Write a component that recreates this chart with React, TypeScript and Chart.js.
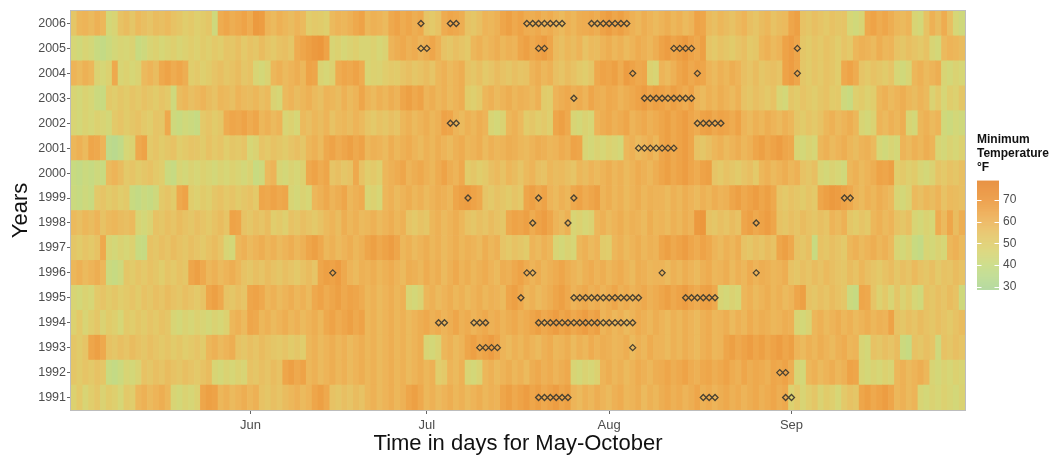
import React, { useEffect, useRef } from 'react';
import { Chart, registerables } from 'chart.js';
Chart.register(...registerables);

// ---------- DATA ----------
const YEARS = [1991, 1992, 1993, 1994, 1995, 1996, 1997, 1998, 1999, 2000, 2001, 2002, 2003, 2004, 2005, 2006];
const MONTH_TICK_DAYS = [30, 60, 91, 122];
const MONTH_TICK_LABELS = ['Jun', 'Jul', 'Aug', 'Sep'];
const LEGEND_TICKS = [30, 40, 50, 60, 70];
const LEGEND_TITLE = ['Minimum', 'Temperature', '°F'];
const X_TITLE = 'Time in days for May-October';
const Y_TITLE = 'Years';

// Daily minimum temperature (°F), May 2 – Sep 30, one array per year
const T2006 = [53,59,60,58,61,59,44,46,55,57,53,58,56,54,57,56,58,55,53,50,52,49,51,53,42,63,65,62,64,66,63,69,68,60,58,61,59,57,60,58,50,52,51,49,58,60,59,61,64,66,
  59,61,60,58,64,66,63,65,62,64,54,52,55,63,65,64,62,55,53,56,60,59,61,65,67,64,66,63,62,64,61,63,60,58,61,59,62,63,64,62,66,68,65,67,64,61,59,62,60,58,
  60,62,59,61,58,60,66,65,58,56,59,57,55,58,60,56,54,57,59,55,57,58,65,67,55,53,56,54,52,55,53,54,45,43,46,64,66,63,65,62,59,58,60,46,44,55,61,57,63,56,45,42];
const T2005 = [45,43,46,44,40,38,41,44,46,45,47,40,42,46,48,45,47,49,46,48,50,48,51,49,52,50,54,53,56,52,55,53,57,54,52,55,56,53,63,65,67,69,70,66,46,48,45,47,49,46,
  46,48,45,47,60,62,64,61,63,60,62,65,61,55,53,56,54,52,59,61,58,60,62,59,61,60,65,67,64,66,68,65,58,56,59,57,60,55,58,57,60,62,59,61,58,60,63,61,59,62,
  66,68,65,67,69,66,64,67,54,52,55,53,51,54,56,52,53,59,61,58,60,66,68,65,53,51,54,52,55,53,50,54,52,59,61,60,58,62,59,60,55,53,56,54,52,55,46,44,58,60,59,57];
const T2004 = [60,58,61,59,47,45,48,64,46,48,45,47,58,60,57,64,66,63,65,62,50,52,49,51,54,56,53,55,57,53,55,46,44,47,59,61,58,60,62,59,66,65,47,45,48,63,65,64,66,63,
  46,48,47,50,52,51,54,56,53,55,57,54,59,61,58,60,62,55,53,56,52,54,57,55,53,56,54,55,60,62,59,61,56,54,57,55,52,50,53,64,66,65,67,63,68,66,64,65,48,46,
  60,58,61,65,67,64,66,65,60,58,61,59,62,60,56,54,57,53,55,56,54,66,68,65,53,51,54,52,55,53,50,64,66,63,54,52,55,53,51,54,45,43,46,59,61,58,60,62,46,44,47,45];
const T2003 = [46,44,47,45,41,40,52,50,53,51,54,52,55,53,51,54,52,42,57,59,56,58,60,57,55,59,58,56,60,58,57,59,56,58,47,45,58,60,57,59,61,58,56,60,59,57,61,58,60,65,
  60,58,61,59,62,60,65,67,64,66,60,62,59,61,58,60,62,51,49,52,59,61,58,60,62,59,61,60,58,61,51,50,60,62,64,61,63,60,65,62,61,64,63,60,62,64,66,68,65,67,
  66,64,67,65,63,66,60,58,61,59,62,60,58,61,55,53,56,54,52,55,46,44,53,51,54,52,50,53,55,51,52,42,40,49,51,48,50,59,61,58,60,62,59,57,60,58,47,52,45,50,48,53];
const T2002 = [46,44,47,45,48,46,44,52,54,51,53,55,52,50,54,53,64,42,40,43,41,39,52,54,51,53,63,65,64,66,63,65,59,61,58,60,46,48,45,58,56,59,57,60,55,58,59,57,60,58,
  54,52,55,53,56,54,59,61,58,60,62,59,61,66,65,60,58,61,59,62,60,46,44,47,59,61,58,51,53,50,52,49,65,67,64,46,44,47,45,60,62,64,61,63,65,60,62,64,61,63,
  65,67,64,66,68,65,63,66,67,64,66,65,63,66,60,58,61,59,62,60,58,61,59,53,51,54,52,55,59,61,58,60,62,59,46,44,47,60,58,61,59,62,46,44,59,61,58,60,43,41,44,42];
const T2001 = [59,61,58,65,64,60,36,34,37,45,47,64,66,52,54,51,53,55,50,52,54,53,51,55,52,54,50,53,52,54,45,47,54,52,55,53,51,54,56,53,59,61,58,64,66,63,65,67,64,66,
  59,61,60,58,62,59,61,63,60,58,61,59,62,60,58,61,63,59,60,62,58,61,59,60,62,61,59,58,60,62,61,59,60,63,61,66,65,46,44,47,45,48,46,44,59,61,58,60,62,59,
  65,67,64,66,68,65,55,53,56,59,61,58,60,62,59,61,65,67,64,66,68,65,64,46,44,47,45,59,61,58,60,62,59,57,60,61,58,45,43,46,44,60,58,61,59,62,60,46,44,47,45,48];
const T2000 = [40,38,41,39,42,40,58,60,57,52,54,51,53,55,52,50,41,39,46,44,47,45,48,46,44,47,45,48,46,44,47,40,42,58,60,46,44,47,45,48,64,66,63,65,54,56,53,55,64,55,
  50,52,49,59,61,63,65,60,62,64,61,59,63,66,62,60,64,51,53,50,52,56,58,55,59,57,54,58,60,56,55,59,57,58,56,54,59,57,60,58,60,62,59,61,58,60,63,61,59,62,
  65,67,64,66,68,65,63,66,67,54,52,55,53,51,54,56,52,59,61,58,60,62,59,61,55,53,56,46,44,47,45,43,59,61,58,60,62,66,65,67,50,52,49,51,46,44,47,54,52,55,53,56];
const T1999 = [41,39,42,40,52,54,51,53,50,52,40,38,41,39,42,52,54,51,64,66,50,48,51,49,53,55,52,54,51,53,55,52,65,64,66,64,65,46,44,47,45,59,61,64,60,62,65,59,61,63,
  46,48,45,59,61,58,60,62,59,61,58,60,62,61,59,65,67,68,66,64,54,52,55,53,51,54,52,65,67,64,66,60,58,61,59,64,66,63,65,67,60,62,59,61,58,60,62,59,61,60,
  60,58,61,59,62,60,58,61,59,62,60,61,65,67,64,66,68,65,67,64,54,52,55,53,51,54,52,65,67,69,68,66,64,60,58,61,59,62,60,58,46,44,47,58,56,59,57,60,55,58,57,56];
const T1998 = [58,56,59,57,60,55,58,59,57,56,58,46,44,47,55,53,56,54,57,55,53,56,54,52,55,57,54,66,65,55,53,56,54,57,50,52,49,55,53,56,54,52,55,58,60,57,62,59,61,58,
  59,61,58,60,62,59,61,54,52,55,53,59,61,58,60,62,59,55,53,56,54,57,55,53,64,66,65,67,63,66,68,65,60,58,61,46,48,45,47,59,61,58,60,62,59,61,60,58,62,59,
  60,58,61,59,62,60,69,70,55,53,56,54,57,55,65,67,64,66,68,65,55,53,56,54,57,55,53,56,54,60,58,61,53,51,54,52,59,61,58,60,55,53,56,46,44,47,45,63,58,65,57,62];
const T1997 = [53,51,54,52,55,64,46,44,47,45,48,40,39,55,53,56,54,57,55,53,56,54,52,55,57,54,46,44,59,61,58,60,62,59,61,58,60,62,59,61,65,67,64,59,61,58,60,62,59,61,
  65,67,64,66,68,65,59,61,58,60,62,59,61,58,60,62,59,61,60,58,62,59,61,54,52,55,53,51,60,58,61,59,46,44,47,45,59,61,58,60,51,50,59,61,58,60,62,59,61,60,
  65,67,64,66,68,65,63,66,64,60,58,61,59,62,55,53,56,54,57,55,65,67,64,55,53,56,40,55,53,56,54,52,59,61,58,60,62,59,61,58,46,44,47,40,38,46,44,47,45,59,61,58];
const T1996 = [59,61,58,60,62,59,41,39,42,53,51,54,52,55,53,50,54,52,55,53,65,67,64,59,61,58,60,62,59,55,53,56,54,57,55,53,56,54,52,55,57,54,65,67,66,68,64,60,58,61,
  60,62,59,61,63,60,58,62,61,59,63,60,62,58,61,64,60,62,59,61,63,60,58,62,61,64,66,63,60,62,59,61,63,65,62,60,58,61,63,60,62,59,61,63,60,58,62,61,59,60,
  60,58,61,59,62,60,58,61,63,59,60,62,58,61,59,63,60,62,61,59,60,62,55,53,56,54,57,55,58,56,54,53,57,55,59,56,54,52,55,57,53,56,54,58,55,53,56,52,55,54,57,55];
const T1995 = [46,44,47,45,52,54,51,53,50,52,54,51,55,53,56,54,57,55,53,56,54,52,55,65,67,64,55,53,56,54,65,66,64,59,61,58,60,62,59,61,58,64,66,63,65,67,64,66,65,63,
  59,61,58,60,62,59,61,46,44,47,59,61,58,60,62,59,61,58,60,62,59,61,60,58,65,67,64,59,61,58,60,62,65,67,64,60,62,64,61,63,60,62,65,61,63,60,62,64,61,63,
  65,67,64,66,68,65,63,66,67,64,46,44,47,45,59,61,58,60,62,59,61,58,60,65,67,55,53,56,54,57,55,53,41,39,65,64,54,48,52,46,53,47,51,45,43,55,53,56,54,57,55,42];
const T1994 = [48,52,46,50,53,47,51,49,45,52,50,53,51,54,52,55,53,46,44,47,45,48,46,44,47,45,48,59,61,58,65,64,59,61,58,60,62,59,61,58,60,62,59,64,66,63,65,67,64,66,
  59,61,58,60,62,59,61,58,60,62,64,61,63,60,62,65,61,63,60,62,64,61,63,60,62,64,61,63,65,67,64,66,68,65,67,64,66,68,65,67,60,62,59,61,58,60,63,61,59,62,
  60,58,61,59,62,60,58,61,63,59,60,62,58,61,59,63,60,62,61,59,60,62,61,46,44,47,59,61,58,60,62,59,61,58,60,62,59,61,60,66,55,53,56,54,57,55,53,56,54,52,55,57];
const T1993 = [53,51,54,65,67,64,55,53,56,54,57,55,53,56,54,52,54,51,53,50,52,54,51,59,61,58,60,62,55,53,56,54,57,55,53,52,54,51,53,50,59,61,58,60,62,59,61,58,60,62,
  59,61,58,60,62,59,61,58,60,62,46,44,47,59,61,58,60,65,67,64,66,68,65,60,58,61,59,62,60,58,61,63,59,60,62,58,61,59,63,60,62,61,59,60,62,58,61,59,63,60,
  60,58,61,59,62,60,58,61,63,59,60,65,67,64,66,68,65,67,64,66,68,65,67,60,58,61,59,62,60,58,61,63,59,60,46,44,55,53,56,54,57,41,39,55,53,56,54,42,55,53,56,54];
const T1992 = [53,51,54,52,55,53,40,38,41,46,44,47,55,53,56,54,57,55,53,56,54,52,55,57,46,44,47,45,48,46,55,53,56,54,57,55,65,67,64,66,59,61,58,60,62,59,61,58,60,62,
  59,61,58,60,62,59,61,58,60,62,59,61,50,52,60,58,61,46,44,47,59,61,58,60,62,59,61,58,62,64,61,63,60,62,64,46,44,47,45,48,60,62,59,61,58,60,63,61,59,62,
  63,65,62,64,66,63,61,64,65,62,64,66,63,61,65,62,64,63,61,65,64,66,62,46,44,59,61,58,60,62,59,61,66,65,46,44,47,45,48,46,59,61,58,60,62,59,46,44,47,45,48,46];
const T1991 = [48,52,46,50,53,47,51,49,45,52,50,59,61,58,60,62,59,46,44,47,45,48,65,67,66,59,61,58,60,62,59,61,55,53,56,54,57,59,61,58,60,65,67,64,55,53,56,54,57,55,
  59,61,58,60,62,59,61,65,67,64,59,61,58,60,62,59,61,58,60,62,59,61,60,65,67,64,66,68,65,67,64,66,68,65,67,60,58,61,59,62,60,58,61,63,59,60,62,58,61,59,
  62,64,61,63,60,62,65,61,63,60,62,64,61,63,60,62,64,61,63,65,62,64,48,52,46,50,53,47,51,49,45,52,55,53,65,67,64,66,68,65,59,61,58,60,46,44,47,45,48,46,44,47];

const TEMPS = [T1991, T1992, T1993, T1994, T1995, T1996, T1997, T1998, T1999, T2000, T2001, T2002, T2003, T2004, T2005, T2006];

// Marked (heat) days, as day index from May 2
const H1991 = [79, 80, 81, 82, 83, 84, 107, 108, 109, 121, 122];
const H1992 = [120, 121];
const H1993 = [69, 70, 71, 72, 95];
const H1994 = [62, 63, 68, 69, 70, 79, 80, 81, 82, 83, 84, 85, 86, 87, 88, 89, 90, 91, 92, 93, 94, 95];
const H1995 = [76, 85, 86, 87, 88, 89, 90, 91, 92, 93, 94, 95, 96, 104, 105, 106, 107, 108, 109];
const H1996 = [44, 77, 78, 100, 116];
const H1997: number[] = [];
const H1998 = [78, 84, 116];
const H1999 = [67, 79, 85, 131, 132];
const H2000: number[] = [];
const H2001 = [96, 97, 98, 99, 100, 101, 102];
const H2002 = [64, 65, 106, 107, 108, 109, 110];
const H2003 = [85, 97, 98, 99, 100, 101, 102, 103, 104, 105];
const H2004 = [95, 106, 123];
const H2005 = [59, 60, 79, 80, 102, 103, 104, 105, 123];
const H2006 = [59, 64, 65, 77, 78, 79, 80, 81, 82, 83, 88, 89, 90, 91, 92, 93, 94];

const HEAT = [H1991, H1992, H1993, H1994, H1995, H1996, H1997, H1998, H1999, H2000, H2001, H2002, H2003, H2004, H2005, H2006];

// ---------- helpers ----------
const DAY_LABELS = Array.from({ length: 152 }, (_, i) => {
  const d = new Date(2001, 4, 2 + i);
  return `${d.getMonth() + 1}/${d.getDate()}`;
});

const STOPS: [number, number[]][] = [
  [28, [172, 214, 152]],
  [35, [188, 218, 140]],
  [40, [200, 218, 128]],
  [45, [214, 214, 118]],
  [50, [224, 205, 108]],
  [55, [231, 194, 100]],
  [60, [237, 180, 88]],
  [65, [238, 166, 74]],
  [70, [236, 151, 60]],
  [79, [230, 134, 46]],
];
function tempColor(v: number): string {
  if (v <= STOPS[0][0]) return `rgb(${STOPS[0][1].join(',')})`;
  for (let i = 1; i < STOPS.length; i++) {
    if (v <= STOPS[i][0]) {
      const [v0, c0] = STOPS[i - 1];
      const [v1, c1] = STOPS[i];
      const t = (v - v0) / (v1 - v0);
      const c = c0.map((a, k) => Math.round(a + (c1[k] - a) * t));
      return `rgb(${c.join(',')})`;
    }
  }
  return `rgb(${STOPS[STOPS.length - 1][1].join(',')})`;
}

const FONT = '"Liberation Sans", Arial, Helvetica, sans-serif';
const TEXT = '#4d4d4d';

const legendPlugin = {
  id: 'tempLegend',
  afterDraw(chart: any) {
    const ctx = chart.ctx as CanvasRenderingContext2D;
    const { left, right, top, bottom } = chart.chartArea;
    ctx.save();
    ctx.strokeStyle = '#bdbdbd';
    ctx.lineWidth = 1;
    ctx.strokeRect(left - 0.5, top - 0.5, right - left + 1, bottom - top + 1);

    ctx.fillStyle = '#111';
    ctx.font = `bold 12px ${FONT}`;
    ctx.textAlign = 'left';
    ctx.textBaseline = 'middle';
    LEGEND_TITLE.forEach((t, i) => ctx.fillText(t, 977, 140 + i * 14));

    const bx = 977, bw = 22, y30 = 286.7, pp = 2.165, vMin = 28.5, vMax = 79;
    const yOf = (v: number) => y30 - (v - 30) * pp;
    const yTop = yOf(vMax), yBot = yOf(vMin);
    for (let y = yTop; y < yBot; y += 1) {
      const v = 30 + (y30 - (y + 0.5)) / pp;
      ctx.fillStyle = tempColor(v);
      ctx.fillRect(bx, y, bw, Math.min(1.2, yBot - y));
    }
    ctx.strokeStyle = '#ffffff';
    ctx.lineWidth = 1;
    ctx.font = `12px ${FONT}`;
    ctx.fillStyle = TEXT;
    LEGEND_TICKS.forEach((v) => {
      const y = Math.round(yOf(v)) + 0.5;
      ctx.beginPath();
      ctx.moveTo(bx, y); ctx.lineTo(bx + 4.5, y);
      ctx.moveTo(bx + bw - 4.5, y); ctx.lineTo(bx + bw, y);
      ctx.stroke();
      ctx.fillText(String(v), 1003, yOf(v));
    });
    ctx.restore();
  },
};

export default function App() {
  const ref = useRef<HTMLCanvasElement>(null);
  useEffect(() => {
    Chart.defaults.font.family = FONT;
    const heatSets: any[] = YEARS.map((yr, yi) => ({
      type: 'bar',
      label: String(yr),
      data: TEMPS[yi].map(() => [yi - 0.5, yi + 0.5]),
      backgroundColor: TEMPS[yi].map(tempColor),
      borderWidth: 0,
      grouped: false,
      barPercentage: 1,
      categoryPercentage: 1,
      order: 2,
    }));
    const points: any[] = [];
    HEAT.forEach((days, yi) => days.forEach((d) => points.push({ x: DAY_LABELS[d], y: yi })));
    const markSet: any = {
      type: 'scatter',
      label: 'marked days',
      data: points,
      pointStyle: 'rectRot',
      radius: 3,
      borderWidth: 1.3,
      borderColor: '#4a4232',
      backgroundColor: 'rgba(0,0,0,0)',
      order: 0,
    };
    const chart = new Chart(ref.current!, {
      type: 'bar',
      data: { labels: DAY_LABELS, datasets: [...heatSets, markSet] },
      options: {
        responsive: false,
        maintainAspectRatio: false,
        animation: false,
        events: [],
        layout: { padding: { left: 0, right: 98, top: 11, bottom: 0 } },
        plugins: { legend: { display: false }, tooltip: { enabled: false } },
        scales: {
          x: {
            type: 'category',
            offset: true,
            afterBuildTicks: (s: any) => { s.ticks = MONTH_TICK_DAYS.map((v) => ({ value: v })); },
            afterFit: (s: any) => { s.height = 48; },
            ticks: {
              autoSkip: false,
              maxRotation: 0,
              minRotation: 0,
              padding: 4,
              color: TEXT,
              font: { size: 13 },
              callback: (_v: any, i: number) => MONTH_TICK_LABELS[i],
            },
            grid: { drawOnChartArea: false, offset: false, tickLength: 4, color: '#666' },
            border: { display: false },
            title: { display: true, text: X_TITLE, color: '#111', font: { size: 22 }, padding: { top: 0, bottom: 1 } },
          },
          y: {
            type: 'linear',
            min: -0.5,
            max: 15.5,
            afterBuildTicks: (s: any) => { s.ticks = YEARS.map((_, i) => ({ value: i })); },
            afterFit: (s: any) => { s.width = 71; },
            ticks: {
              padding: 1,
              color: TEXT,
              font: { size: 12.5 },
              callback: (v: any) => String(YEARS[v]),
            },
            grid: { drawOnChartArea: false, tickLength: 4, color: '#666' },
            border: { display: false },
            title: { display: true, text: Y_TITLE, color: '#111', font: { size: 22 }, padding: { top: 8, bottom: 0 } },
          },
        },
      },
      plugins: [legendPlugin],
    } as any);
    return () => chart.destroy();
  }, []);
  return (
    <div style={{ position: 'absolute', left: 0, top: 0, width: 1063, height: 458, background: '#fff' }}>
      <canvas ref={ref} width={1063} height={458} style={{ display: 'block' }} />
    </div>
  );
}
